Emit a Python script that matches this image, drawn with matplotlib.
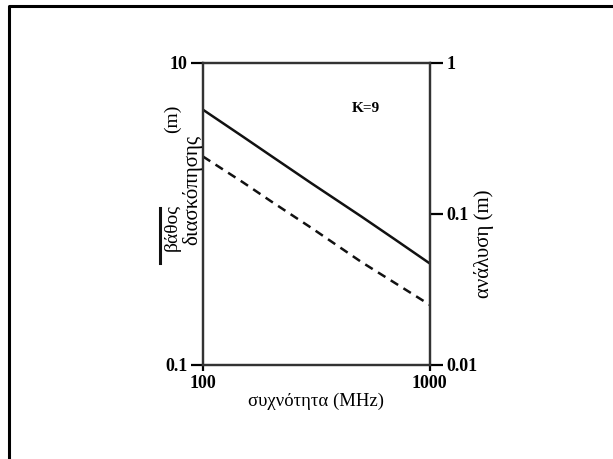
import numpy as np
import matplotlib
matplotlib.use("Agg")
import matplotlib.pyplot as plt
from matplotlib.lines import Line2D

plt.rcParams['font.family'] = ['Liberation Serif', 'DejaVu Serif']

# συχνότητα (MHz) και οι δύο καμπύλες
freq = [100, 150, 200, 300, 500, 700, 1000]
vathos = [4.9, 3.25, 2.42, 1.6, 0.96, 0.68, 0.47]        # βάθος διασκόπησης (m)
analysi = [0.24, 0.162, 0.121, 0.081, 0.048, 0.035, 0.025]  # ανάλυση (m)

fig = plt.figure(figsize=(6.13, 4.59), dpi=100)
ax = fig.add_axes([0.331, 0.205, 0.370, 0.658])
ax2 = ax.twinx()

ax.plot(freq, vathos, color='#111111', lw=1.8)
ax2.plot(freq, analysi, color='#111111', lw=1.8, ls=(0, (3.5, 2.5)))

for a in (ax, ax2):
    a.set_xscale('log')
    a.set_yscale('log')
    a.set_xlim(100, 1000)
    for s in a.spines.values():
        s.set_linewidth(1.6)
        s.set_color('#333333')
    a.minorticks_off()

ax.set_ylim(0.1, 10)
ax2.set_ylim(0.01, 1)

ax.set_xticks([100, 1000])
ax.set_xticklabels(['100', '1000'])
ax.set_yticks([0.1, 10])
ax.set_yticklabels(['0.1', '10'])
ax2.set_yticks([0.01, 0.1, 1])
ax2.set_yticklabels(['0.01', '0.1', '1'])

ax.tick_params(axis='y', length=9, width=1.6, pad=2, labelsize=13)
ax.tick_params(axis='x', length=4, width=1.6, pad=3, labelsize=13)
ax2.tick_params(axis='y', length=9, width=1.6, pad=3, labelsize=13)
for lab in ax.get_xticklabels() + ax.get_yticklabels() + ax2.get_yticklabels():
    lab.set_fontweight('bold')

ax.set_xlabel('συχνότητα (MHz)', fontsize=13.5, labelpad=1)

# ετικέτα δεξιού άξονα
fig.text(0.789, 0.468, 'ανάλυση (m)', rotation=90, fontsize=15, ha='center', va='center')

# ετικέτα αριστερού άξονα σε δύο γραμμές
fig.text(0.281, 0.505, 'βάθος', rotation=90, fontsize=14, ha='center', va='center')
fig.text(0.281, 0.742, '(m)', rotation=90, fontsize=14, ha='center', va='center')
fig.text(0.313, 0.586, 'διασκόπησης', rotation=90, fontsize=15, ha='center', va='center')
fig.add_artist(Line2D([0.261, 0.261], [0.428, 0.547], color='#111111', lw=2.2))

ax.text(0.72, 0.85, 'K=9', transform=ax.transAxes, fontsize=11,
        fontweight='bold', ha='center', va='center')

# πλαίσιο γύρω από το σχήμα
fig.add_artist(Line2D([0.014, 0.014, 1.0], [0.0, 0.986, 0.986], color='black', lw=2.2))

fig.savefig('out.png', dpi=100)
